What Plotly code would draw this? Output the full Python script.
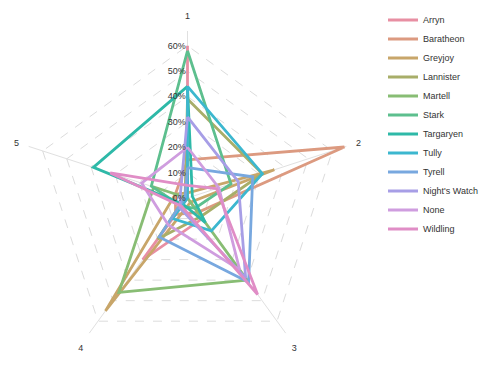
import plotly.graph_objects as go

axes_labels = ["1", "2", "3", "4", "5"]
houses = ["Arryn", "Baratheon", "Greyjoy", "Lannister", "Martell", "Stark",
          "Targaryen", "Tully", "Tyrell", "Night's Watch", "None", "Wildling"]
colors = ["#e88fa3", "#dc9a80", "#c8a66a", "#a8ae69", "#88bd74", "#5dbf8e",
          "#2eb9a8", "#3cb7cf", "#78a8df", "#a79ee6", "#cf9ddf", "#e08dc6"]

arryn = [0.60, 0.00, 0.10, 0.30, 0.00]
baratheon = [0.15, 0.65, 0.07, 0.08, 0.05]
greyjoy = [0.02, 0.36, 0.02, 0.55, 0.05]
lannister = [0.39, 0.31, 0.09, 0.20, 0.01]
martell = [0.00, 0.00, 0.40, 0.46, 0.14]
stark = [0.58, 0.18, 0.05, 0.04, 0.15]
targaryen = [0.44, 0.02, 0.12, 0.03, 0.39]
tully = [0.44, 0.31, 0.16, 0.10, 0.00]
tyrell = [0.12, 0.27, 0.41, 0.19, 0.01]
nights_watch = [0.32, 0.21, 0.39, 0.05, 0.03]
none = [0.20, 0.13, 0.35, 0.13, 0.19]
wildling = [0.05, 0.12, 0.47, 0.04, 0.32]

series = [arryn, baratheon, greyjoy, lannister, martell, stark,
          targaryen, tully, tyrell, nights_watch, none, wildling]

tick_vals = [0, 0.1, 0.2, 0.3, 0.4, 0.5, 0.6]
tick_text = ["0%", "10%", "20%", "30%", "40%", "50%", "60%"]

fig = go.Figure()
for name, vals, col in zip(houses, series, colors):
    fig.add_trace(go.Scatterpolar(
        r=vals + vals[:1],
        theta=axes_labels + axes_labels[:1],
        mode="lines",
        name=name,
        line=dict(color=col, width=2.8),
    ))

W, H = 483, 365
cx, cy, R = 187.5, 198, 167
fig.update_layout(
    width=W, height=H,
    margin=dict(l=0, r=0, t=0, b=0),
    paper_bgcolor="white",
    plot_bgcolor="white",
    font=dict(family="Liberation Sans, Arial, sans-serif", size=9, color="#333"),
    polar=dict(
        domain=dict(x=[(cx - R) / W, (cx + R) / W], y=[(H - cy - R) / H, (H - cy + R) / H]),
        bgcolor="white",
        gridshape="linear",
        radialaxis=dict(
            range=[0, 0.658],
            tickvals=tick_vals,
            ticktext=tick_text,
            angle=90,
            tickangle=90,
            side="counterclockwise",
            showline=False,
            ticks="",
            gridcolor="#dcdcdc",
            griddash="dash",
            gridwidth=1,
            tickfont=dict(size=9, color="#333"),
        ),
        angularaxis=dict(
            type="category",
            categoryarray=axes_labels,
            direction="clockwise",
            rotation=90,
            showline=False,
            ticks="outside",
            ticklen=8,
            tickcolor="rgba(0,0,0,0)",
            gridcolor="#e0e0e0",
            gridwidth=1,
            tickfont=dict(size=9, color="#333"),
        ),
    ),
    legend=dict(
        x=1.0, y=0.985, xanchor="right", yanchor="top",
        font=dict(size=9, color="#333"),
        bgcolor="rgba(0,0,0,0)",
    ),
)

fig.write_html("out.html")
